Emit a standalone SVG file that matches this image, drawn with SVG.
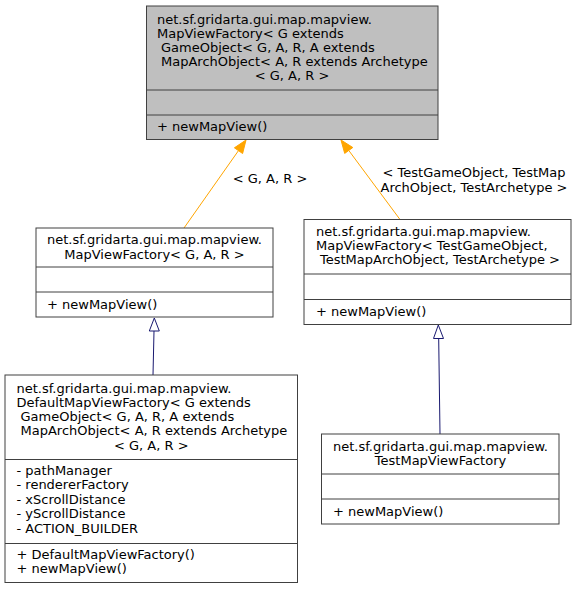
<svg xmlns="http://www.w3.org/2000/svg" width="577" height="589" viewBox="0 0 577 589">
<style>
text{font-family:"DejaVu Sans",sans-serif;font-size:13px;fill:#000}
.m{text-anchor:middle}
.box{fill:#fff;stroke:#404040;stroke-width:1}
.hl{fill:#bfbfbf}
.sep{stroke:#404040;stroke-width:1;fill:none}
.inh{stroke:#191970;stroke-width:1;fill:none}
.inhh{stroke:#191970;stroke-width:1;fill:#fff}
.tpl{stroke:#ffa500;stroke-width:1;fill:none}
.tplh{stroke:#ffa500;stroke-width:1;fill:#ffa500}
</style>
<rect width="577" height="589" fill="#fff"/>
<g id="connectors">
  <g id="e1">
    <path class="tpl" d="M184,228 L238.5,150.6"/>
    <polygon class="tplh" points="246,140 242.6,153.5 234.4,147.8"/>
    <text class="m" x="270" y="182.5">&lt; G, A, R &gt;</text>
  </g>
  <g id="e2">
    <path class="tpl" d="M400,219.5 L348.75,150.44"/>
    <polygon class="tplh" points="341,140 352.8,147.5 344.7,153.4"/>
    <text class="m" x="474" y="177">&lt; TestGameObject, TestMap</text>
    <text class="m" x="474" y="191.5">ArchObject, TestArchetype &gt;</text>
  </g>
  <g id="e3">
    <path class="inh" d="M153,375 L154,331"/>
    <polygon class="inhh" points="154.3,318 149.3,331 159.3,331"/>
  </g>
  <g id="e4">
    <path class="inh" d="M440,434 L438.7,338.5"/>
    <polygon class="inhh" points="438.3,325 433.5,338.5 443.5,338.5"/>
  </g>
</g>
<g id="node_top">
  <rect class="box hl" x="146.5" y="6" width="291.5" height="133.5"/>
  <line class="sep" x1="146.5" y1="90" x2="438" y2="90"/>
  <line class="sep" x1="146.5" y1="115" x2="438" y2="115"/>
  <text x="157" y="23.6">net.sf.gridarta.gui.map.mapview.</text>
  <text x="157" y="37.8">MapViewFactory&lt; G extends</text>
  <text x="161" y="52">GameObject&lt; G, A, R, A extends</text>
  <text x="161" y="66.2">MapArchObject&lt; A, R extends Archetype</text>
  <text class="m" x="292" y="80.4">&lt; G, A, R &gt;</text>
  <text x="157" y="131.3">+ newMapView()</text>
</g>
<g id="node_mvf_gar">
  <rect class="box" x="36" y="228" width="237" height="89"/>
  <line class="sep" x1="36" y1="267" x2="273" y2="267"/>
  <line class="sep" x1="36" y1="292" x2="273" y2="292"/>
  <text class="m" x="154.5" y="244.4">net.sf.gridarta.gui.map.mapview.</text>
  <text class="m" x="154.5" y="258.6">MapViewFactory&lt; G, A, R &gt;</text>
  <text x="47" y="308.5">+ newMapView()</text>
</g>
<g id="node_mvf_test">
  <rect class="box" x="304" y="219.5" width="267" height="105"/>
  <line class="sep" x1="304" y1="274" x2="571" y2="274"/>
  <line class="sep" x1="304" y1="299.5" x2="571" y2="299.5"/>
  <text x="316" y="236">net.sf.gridarta.gui.map.mapview.</text>
  <text x="316" y="250.2">MapViewFactory&lt; TestGameObject,</text>
  <text x="320" y="264.4">TestMapArchObject, TestArchetype &gt;</text>
  <text x="316" y="315.5">+ newMapView()</text>
</g>
<g id="node_testmvf">
  <rect class="box" x="321.5" y="434" width="237.5" height="90"/>
  <line class="sep" x1="321.5" y1="474" x2="559" y2="474"/>
  <line class="sep" x1="321.5" y1="499" x2="559" y2="499"/>
  <text class="m" x="440.5" y="451">net.sf.gridarta.gui.map.mapview.</text>
  <text class="m" x="440.5" y="465.2">TestMapViewFactory</text>
  <text x="333" y="515.5">+ newMapView()</text>
</g>
<g id="node_default">
  <rect class="box" x="5" y="375" width="292.5" height="207.5"/>
  <line class="sep" x1="5" y1="459.5" x2="297.5" y2="459.5"/>
  <line class="sep" x1="5" y1="543.5" x2="297.5" y2="543.5"/>
  <text x="16.5" y="392.8">net.sf.gridarta.gui.map.mapview.</text>
  <text x="16.5" y="407">DefaultMapViewFactory&lt; G extends</text>
  <text x="20.5" y="421.2">GameObject&lt; G, A, R, A extends</text>
  <text x="20.5" y="435.4">MapArchObject&lt; A, R extends Archetype</text>
  <text class="m" x="151.3" y="449.6">&lt; G, A, R &gt;</text>
  <text x="16.5" y="474.5">- pathManager</text>
  <text x="16.5" y="489.1">- rendererFactory</text>
  <text x="16.5" y="503.7">- xScrollDistance</text>
  <text x="16.5" y="518.3">- yScrollDistance</text>
  <text x="16.5" y="532.9">- ACTION_BUILDER</text>
  <text x="16.5" y="558.5">+ DefaultMapViewFactory()</text>
  <text x="16.5" y="573">+ newMapView()</text>
</g>
</svg>
